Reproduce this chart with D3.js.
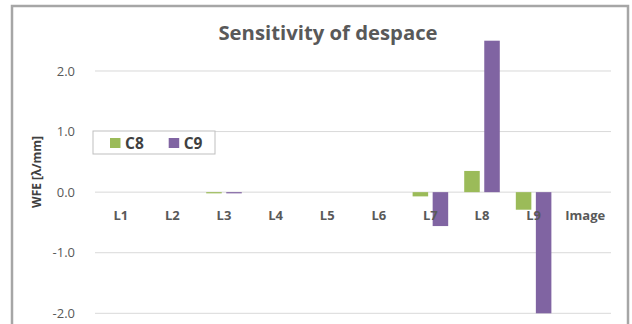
<!DOCTYPE html>
<html>
<head>
<meta charset="utf-8">
<script src="https://cdn.jsdelivr.net/npm/d3@7"></script>
<style>
  html, body { margin: 0; padding: 0; background: #fff; }
  svg { display: block; }
  text { font-family: "Open Sans", "DejaVu Sans", sans-serif; }
</style>
</head>
<body>
<svg id="chart" width="632" height="324"></svg>
<script>
// Lens elements along the optical path
const categories = ["L1", "L2", "L3", "L4", "L5", "L6", "L7", "L8", "L9", "Image"];
// WFE sensitivity per mm of despace, by Zernike term
const seriesNames = ["C8", "C9"];
const c8Values = [0, 0, -0.02, 0, 0, 0, -0.07, 0.35, -0.29, 0];
const c9Values = [0, 0, -0.02, 0, 0, 0, -0.56, 2.50, -2.00, 0];
const yTicks = [-2, -1, 0, 1, 2];

const colors = { C8: "#9BBB59", C9: "#8064A2" };
const series = [
  { name: "C8", values: c8Values },
  { name: "C9", values: c9Values }
];

const svg = d3.select("#chart");
const plot = { left: 95, right: 611, top: 40.7, bottom: 313.3 };

// Chart frame
svg.append("rect")
  .attr("x", 12).attr("y", 6)
  .attr("width", 616).attr("height", 330)
  .attr("fill", "#fff")
  .attr("stroke", "#a6a6a6").attr("stroke-width", 2.5);

const x0 = d3.scaleBand()
  .domain(categories)
  .range([plot.left, plot.right])
  .padding(0);

const x1 = d3.scaleBand()
  .domain(seriesNames)
  .range([0, x0.bandwidth()])
  .paddingInner(0.225)
  .paddingOuter(0.40);

const y = d3.scaleLinear()
  .domain([-2, 2.5])
  .range([plot.bottom, plot.top]);

// Gridlines
svg.append("g")
  .selectAll("line")
  .data(yTicks)
  .join("line")
  .attr("x1", plot.left).attr("x2", plot.right)
  .attr("y1", d => y(d)).attr("y2", d => y(d))
  .attr("stroke", "#d9d9d9").attr("stroke-width", 1);

// Y tick labels (plain hyphen for negatives)
const fmt = d3.format(".1f");
const yAxis = d3.axisLeft(y)
  .tickValues(yTicks)
  .tickFormat(d => fmt(d).replace("\u2212", "-"))
  .tickSize(0)
  .tickPadding(0);
const gy = svg.append("g")
  .attr("transform", `translate(${75},0)`)
  .call(yAxis);
gy.select(".domain").remove();
gy.selectAll("text")
  .attr("font-family", "'Open Sans', sans-serif")
  .attr("font-size", 13)
  .attr("fill", "#595959");

// Bars
const groups = svg.append("g")
  .selectAll("g")
  .data(categories.map((c, i) => ({ cat: c, i })))
  .join("g")
  .attr("transform", d => `translate(${x0(d.cat)},0)`);

groups.selectAll("rect")
  .data(d => series.map(s => ({ name: s.name, v: s.values[d.i] })))
  .join("rect")
  .attr("x", d => x1(d.name))
  .attr("width", x1.bandwidth())
  .attr("y", d => Math.min(y(d.v), y(0)))
  .attr("height", d => Math.abs(y(d.v) - y(0)))
  .attr("fill", d => colors[d.name]);

// Category labels sitting just below the zero line
const xAxis = d3.axisBottom(x0).tickSize(0).tickPadding(0);
const gx = svg.append("g")
  .attr("transform", `translate(0,${y(0) + 23})`)
  .call(xAxis);
gx.select(".domain").remove();
gx.selectAll("text")
  .attr("font-family", "'Open Sans', sans-serif")
  .attr("font-size", 13)
  .attr("font-weight", "bold")
  .attr("fill", "#595959")
  .attr("dy", "0.35em")
  .attr("y", 0);

// Title
svg.append("text")
  .attr("x", 328).attr("y", 40)
  .attr("text-anchor", "middle")
  .attr("font-size", 20.3)
  .attr("font-weight", "bold")
  .attr("fill", "#595959")
  .text("Sensitivity of despace");

// Y axis title
svg.append("text")
  .attr("transform", `translate(41,172) rotate(-90)`)
  .attr("text-anchor", "middle")
  .attr("font-size", 12)
  .attr("font-weight", "bold")
  .attr("fill", "#404040")
  .text("WFE [λ/mm]");

// Legend
const legend = svg.append("g").attr("transform", "translate(93,131)");
legend.append("rect")
  .attr("width", 122).attr("height", 23)
  .attr("fill", "#fff")
  .attr("stroke", "#bfbfbf").attr("stroke-width", 1);
const items = legend.selectAll("g.item")
  .data(seriesNames)
  .join("g")
  .attr("class", "item")
  .attr("transform", (d, i) => `translate(${17 + i * 58.7},7)`);
items.append("rect")
  .attr("width", 10.5).attr("height", 10)
  .attr("fill", d => colors[d]);
items.append("text")
  .attr("x", 15).attr("y", 5)
  .attr("dy", "0.36em")
  .attr("font-size", 15.5)
  .attr("font-weight", "bold")
  .attr("fill", "#404040")
  .text(d => d);
</script>
</body>
</html>
